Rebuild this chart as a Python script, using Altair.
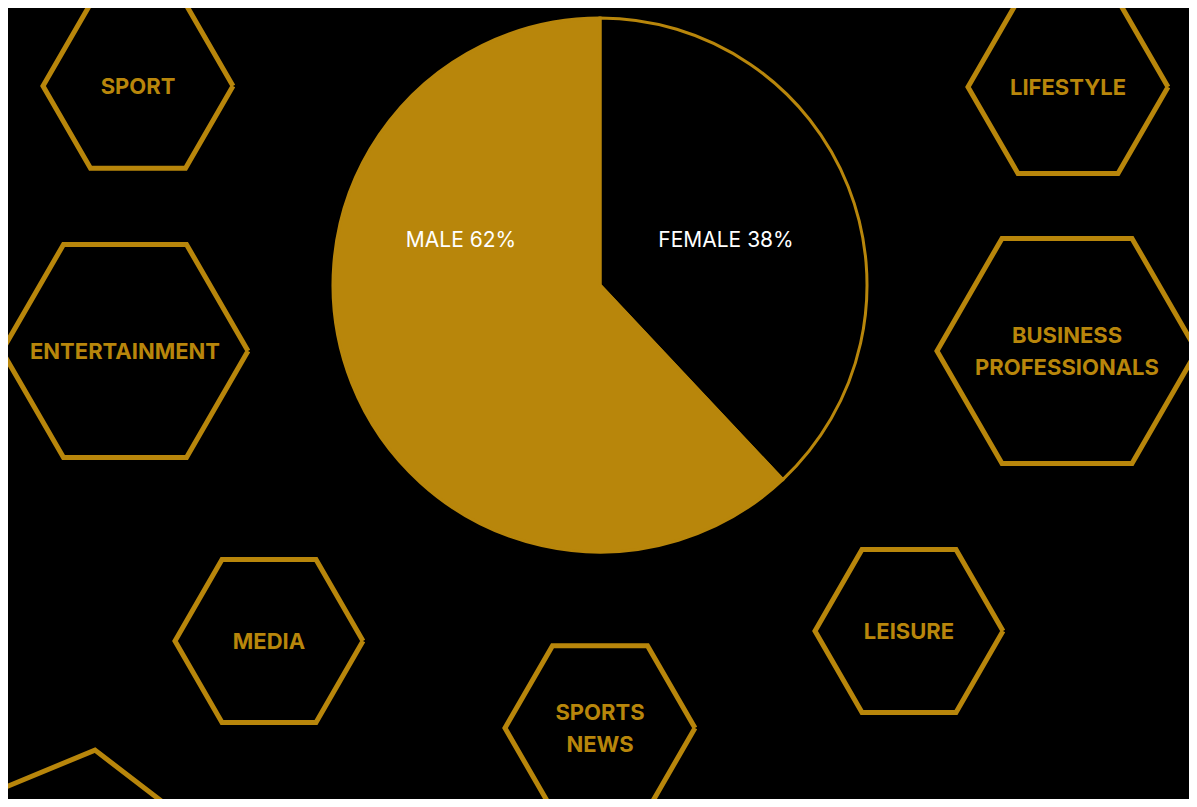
import math
import altair as alt
import pandas as pd

GOLD = "#b8860b"

# Pie data
pie_labels = ["FEMALE", "MALE"]
pie_values = [38, 62]
pie_text = ["FEMALE 38%", "MALE 62%"]
pie_text_x = [726, 461]
pie_text_y = [240, 240]
pie_cx, pie_cy, pie_r = 600, 285, 267

# Hexagon decorations
hex_labels = ["SPORT", "LIFESTYLE", "ENTERTAINMENT", "BUSINESS\nPROFESSIONALS",
              "MEDIA", "LEISURE", "SPORTS\nNEWS", ""]
hex_cx = [138, 1068, 125, 1067, 269, 909, 600, 78]
hex_cy = [86, 87, 351, 351, 641, 631, 728, 879]
hex_r = [95, 100, 123, 130, 94, 94, 95, 130]
hex_rot = [0, 0, 0, 0, 0, 0, 0, 37.5]

LINE_H = 32
W, H = 1181, 791
xs = alt.Scale(domain=[8, 8 + W], nice=False, zero=False)
ys = alt.Scale(domain=[8, 8 + H], nice=False, zero=False, reverse=True)

rows = []
for i, (cx, cy, r, rot) in enumerate(zip(hex_cx, hex_cy, hex_r, hex_rot)):
    for k in range(7):
        a = math.radians(rot + 60 * (k % 6))
        rows.append({"hex": i, "k": k, "x": cx + r * math.cos(a), "y": cy + r * math.sin(a)})
hex_df = pd.DataFrame(rows)
# center multi-line labels vertically on the hexagon centre
text_y = [cy - LINE_H / 2 * (lab.count("\n")) for lab, cy in zip(hex_labels, hex_cy)]
hex_lab_df = pd.DataFrame({"label": hex_labels, "x": hex_cx, "y": text_y})

pie_df = pd.DataFrame({"sex": pie_labels, "value": pie_values, "order": [0, 1],
                       "x": [pie_cx] * 2, "y": [pie_cy] * 2})
pie_txt_df = pd.DataFrame({"t": pie_text, "x": pie_text_x, "y": pie_text_y})

X = lambda: alt.X("x:Q", scale=xs, axis=None)
Y = lambda: alt.Y("y:Q", scale=ys, axis=None)

hexes = alt.Chart(hex_df).mark_line(stroke=GOLD, strokeWidth=5, strokeJoin="miter", clip=True).encode(
    x=X(), y=Y(), detail="hex:N", order="k:Q")

hex_text = alt.Chart(hex_lab_df).mark_text(
    color=GOLD, font="Inter", fontSize=22, fontWeight="bold", lineHeight=LINE_H, lineBreak="\n",
    align="center", baseline="middle", dy=1).encode(
    x=X(), y=Y(), text="label:N")

pie = alt.Chart(pie_df).mark_arc(radius=pie_r, stroke=GOLD, strokeWidth=3).encode(
    x=X(), y=Y(),
    theta=alt.Theta("value:Q", stack=True),
    order=alt.Order("order:Q"),
    fill=alt.Fill("sex:N", scale=alt.Scale(domain=pie_labels, range=["#000000", GOLD]), legend=None))

pie_text_layer = alt.Chart(pie_txt_df).mark_text(
    color="white", font="Inter", fontSize=21, align="center", baseline="middle", dy=1).encode(
    x=X(), y=Y(), text="t:N")

chart = alt.layer(pie, hexes, hex_text, pie_text_layer).properties(
    width=W, height=H, padding=0, autosize=alt.AutoSizeParams(type="none"),
    background="black"
).configure_view(stroke=None)

chart.save("out.html", embed_options={"renderer": "svg", "actions": False})
